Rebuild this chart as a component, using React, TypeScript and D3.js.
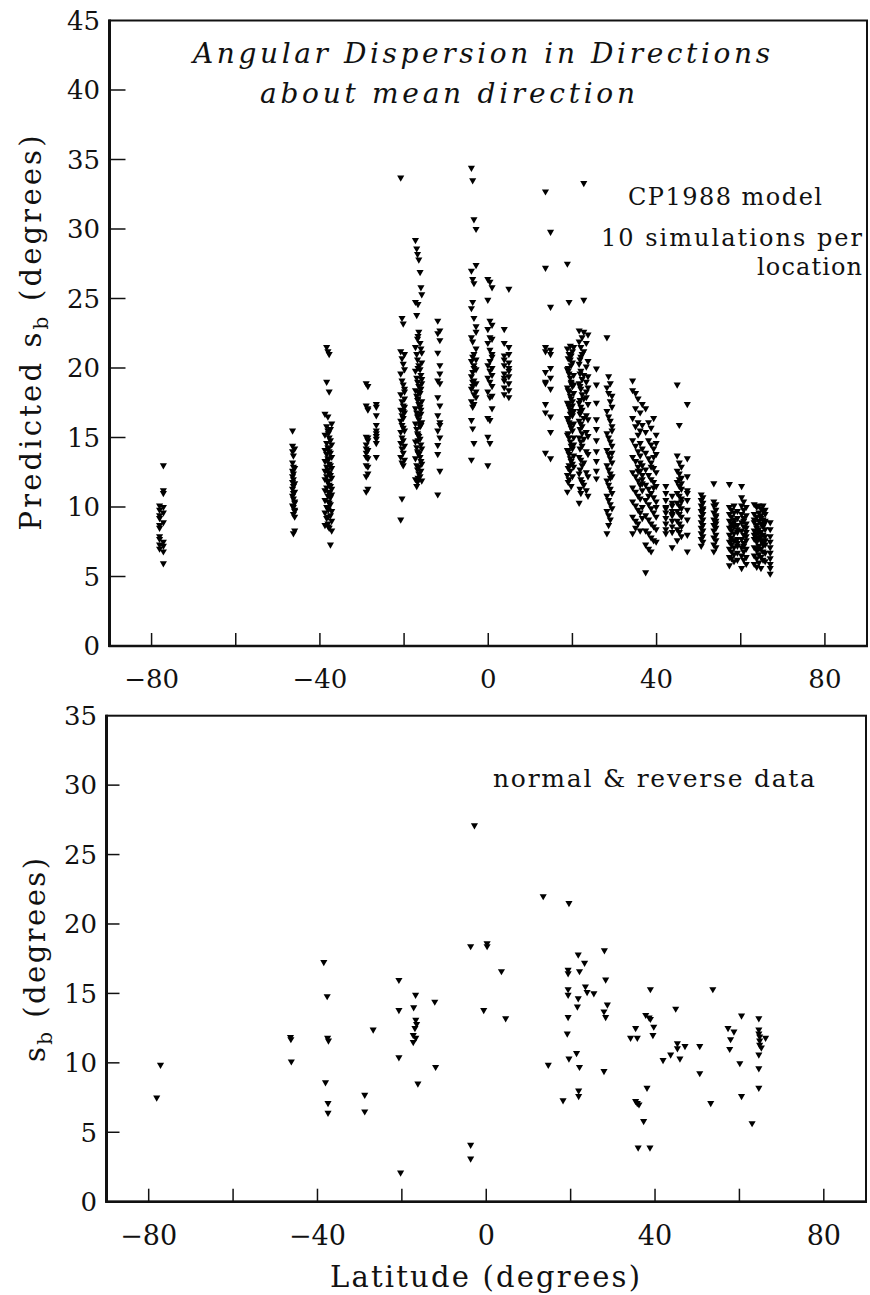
import React from 'react';
import * as d3 from 'd3';

// ---------------- data ----------------
const xTickValues = [-80, -60, -40, -20, 0, 20, 40, 60, 80];
const xTickLabels = ['\u221280', '', '\u221240', '', '0', '', '40', '', '80'];
const topYTickValues = [0, 5, 10, 15, 20, 25, 30, 35, 40, 45];
const bottomYTickValues = [0, 5, 10, 15, 20, 25, 30, 35];

// model simulations (10 per location), grouped by site latitude
const simLatitudes = [
  -78.1, -77.2,
  -46.5, -46.3, -46.0,
  -38.8, -38.4, -38.1, -37.8, -37.5, -37.2, -38.0,
  -29.0, -28.6, -26.6,
  -20.8, -20.5, -20.2, -19.9,
  -17.3, -17.0, -16.8, -16.5, -16.2, -16.0, -15.8, -16.7,
  -12.0, -11.5,
  -4.0, -3.7, -3.4, -2.9,
  -0.1, 0.4, 0.9,
  3.8, 4.9,
  13.6, 14.8,
  18.8, 19.2, 19.5, 19.7, 20.0, 19.0, 20.3,
  22.7, 21.6, 22.0, 22.3, 21.8, 23.3, 23.7,
  25.7,
  28.2, 28.6, 29.0, 29.4,
  34.3, 35.0, 35.6, 36.1, 36.6,
  37.4, 38.1, 38.7, 39.3, 39.9,
  42.2, 43.7,
  44.9, 45.4, 45.9, 47.3,
  50.6, 51.0,
  53.6, 54.1,
  57.3, 57.8, 58.4, 59.2,
  60.2, 60.7, 61.3,
  63.2, 63.8, 64.3, 64.8, 65.3, 65.8,
  67.0,
];

const simValues = [
  [9.8, 9.4, 8.7, 8.5, 7.3, 7.7, 7.9, 9.2, 10.1, 7.0],
  [13.0, 11.2, 11.0, 10.0, 9.6, 8.9, 7.5, 7.2, 6.8, 5.95],
  [15.5, 14.4, 14.0, 13.2, 12.6, 12.2, 11.8, 11.3, 10.8, 10.1],
  [13.7, 12.9, 12.4, 12.0, 11.5, 11.0, 10.6, 10.0, 9.5, 8.1],
  [14.2, 12.8, 11.7, 11.1, 10.4, 9.8, 9.3, 9.7, 10.3, 8.3],
  [16.7, 15.2, 14.1, 13.3, 12.6, 12.0, 11.2, 10.5, 9.6, 8.7],
  [21.5, 19.0, 15.8, 14.6, 13.8, 12.9, 12.2, 11.4, 10.0, 9.2],
  [21.2, 16.5, 15.5, 14.3, 13.5, 12.7, 11.8, 10.8, 9.9, 8.8],
  [21.0, 18.3, 15.0, 14.0, 13.1, 12.4, 11.6, 11.0, 10.3, 8.5],
  [15.6, 14.8, 13.9, 13.0, 12.3, 11.5, 10.7, 10.2, 9.4, 7.3],
  [16.0, 14.5, 13.6, 12.8, 12.1, 11.3, 10.9, 9.7, 9.0, 8.3],
  [15.3, 14.2, 13.4, 12.5, 11.9, 11.1, 10.4, 9.8, 9.3, 8.6],
  [18.9, 17.3, 15.05, 14.5, 13.9, 13.0, 12.2, 11.1, 14.2, 13.6],
  [18.7, 17.1, 17.0, 14.8, 14.1, 13.5, 12.9, 11.3, 12.4, 15.0],
  [17.4, 17.2, 16.6, 15.9, 15.5, 15.3, 15.1, 14.6, 13.6, 14.9],
  [33.7, 21.2, 19.6, 18.1, 17.0, 16.2, 15.4, 14.6, 13.6, 9.1],
  [23.6, 20.7, 19.1, 17.6, 16.6, 15.9, 15.0, 14.2, 13.2, 10.6],
  [23.2, 20.3, 18.8, 17.3, 16.4, 15.7, 14.8, 13.9, 13.0, 16.9],
  [21.0, 19.9, 18.5, 17.8, 16.8, 15.5, 14.4, 13.4, 18.3, 17.2],
  [29.2, 24.75, 21.5, 19.8, 18.4, 17.1, 16.0, 14.7, 13.5, 12.0],
  [28.6, 23.8, 21.0, 19.3, 18.0, 16.8, 15.6, 14.3, 13.0, 11.5],
  [28.2, 22.1, 20.6, 19.0, 17.7, 16.5, 15.3, 14.0, 12.7, 11.8],
  [27.8, 22.6, 20.2, 18.7, 17.4, 16.3, 15.1, 13.8, 12.4, 12.9],
  [26.9, 21.8, 19.9, 18.2, 17.2, 16.0, 14.9, 13.6, 12.2, 15.8],
  [25.8, 21.4, 19.5, 18.5, 17.0, 15.9, 14.5, 13.3, 12.6, 16.7],
  [25.3, 21.1, 20.4, 18.9, 17.6, 16.1, 14.2, 13.1, 11.9, 19.2],
  [24.6, 22.3, 20.0, 18.3, 17.8, 16.6, 15.2, 13.9, 12.1, 14.8],
  [23.4, 22.5, 21.1, 19.1, 17.9, 16.6, 15.5, 14.45, 13.8, 10.9],
  [22.7, 22.0, 20.2, 18.9, 17.3, 15.9, 15.0, 16.1, 19.6, 12.6],
  [34.4, 27.0, 24.3, 22.2, 20.5, 19.4, 18.5, 17.6, 16.25, 13.4],
  [33.5, 26.4, 24.75, 21.9, 20.8, 19.7, 18.7, 17.2, 15.65, 19.0],
  [30.7, 26.1, 23.6, 21.0, 20.2, 19.1, 18.1, 17.4, 14.6, 20.0],
  [30.0, 27.4, 23.0, 22.6, 21.4, 19.9, 18.9, 17.9, 18.3, 20.6],
  [26.4, 24.9, 22.8, 21.8, 20.2, 19.3, 18.3, 16.4, 15.05, 13.0],
  [26.2, 23.4, 22.2, 21.3, 19.8, 19.0, 17.9, 16.25, 14.6, 20.5],
  [25.8, 23.1, 22.1, 20.8, 20.0, 18.7, 17.1, 18.0, 19.5, 21.0],
  [22.8, 21.8, 20.9, 20.2, 19.6, 19.1, 18.6, 18.1, 20.6, 19.3],
  [25.7, 21.5, 21.0, 20.4, 19.8, 19.4, 18.9, 18.4, 17.9, 20.0],
  [32.7, 27.2, 21.5, 19.7, 18.9, 17.4, 16.8, 13.9, 21.2, 19.0],
  [29.8, 24.4, 21.3, 20.0, 18.5, 15.4, 13.5, 16.5, 19.3, 21.0],
  [27.5, 21.4, 19.9, 18.6, 17.5, 16.4, 15.2, 14.1, 12.3, 11.1],
  [24.75, 21.0, 19.6, 18.3, 17.2, 16.1, 15.0, 13.8, 13.0, 12.0],
  [21.6, 20.6, 19.3, 18.0, 17.0, 15.9, 14.7, 13.5, 12.6, 16.7],
  [20.9, 20.2, 19.0, 17.8, 16.8, 15.7, 14.4, 13.3, 11.5, 18.9],
  [21.2, 20.4, 18.7, 17.6, 16.6, 15.5, 14.2, 13.1, 12.2, 17.3],
  [20.7, 19.8, 18.4, 17.4, 16.3, 15.3, 14.0, 12.8, 11.8, 20.0],
  [21.5, 19.5, 18.2, 16.9, 16.0, 15.0, 14.5, 13.7, 12.9, 18.8],
  [33.3, 24.9, 22.6, 21.2, 19.5, 17.8, 16.4, 14.9, 13.2, 11.6],
  [22.7, 21.9, 20.3, 18.9, 17.5, 16.2, 15.0, 13.6, 12.4, 10.3],
  [21.5, 20.8, 19.8, 18.5, 17.2, 16.0, 14.7, 13.4, 12.0, 11.0],
  [22.2, 21.0, 19.2, 18.1, 17.0, 15.8, 14.4, 13.0, 11.8, 15.3],
  [20.6, 19.6, 18.7, 17.7, 16.7, 15.6, 14.2, 12.7, 11.3, 16.9],
  [21.8, 20.1, 19.0, 17.9, 16.6, 15.4, 14.0, 12.5, 11.2, 18.3],
  [22.4, 20.5, 18.6, 17.4, 16.3, 15.1, 13.8, 12.2, 10.8, 19.4],
  [19.96, 18.8, 17.5, 16.3, 15.6, 14.8, 14.0, 13.3, 12.6, 12.05],
  [22.2, 18.6, 16.9, 15.3, 14.1, 13.0, 11.9, 10.8, 9.7, 8.1],
  [19.4, 18.2, 16.5, 15.0, 13.8, 12.7, 11.6, 10.5, 9.4, 8.7],
  [18.9, 17.6, 16.2, 14.7, 13.5, 12.4, 11.3, 10.2, 9.1, 12.1],
  [18.0, 17.2, 15.8, 14.4, 13.2, 12.2, 11.0, 9.9, 15.5, 13.9],
  [19.1, 18.4, 16.4, 14.8, 13.6, 12.5, 11.4, 10.4, 9.3, 8.1],
  [18.2, 17.1, 15.8, 14.4, 13.3, 12.2, 11.1, 10.1, 9.0, 8.5],
  [17.8, 16.1, 15.2, 14.0, 12.9, 11.9, 10.8, 9.8, 8.8, 12.6],
  [16.8, 15.5, 14.6, 13.7, 12.6, 11.6, 10.6, 9.6, 8.3, 13.2],
  [17.4, 15.9, 14.2, 13.0, 12.0, 11.2, 10.0, 9.2, 11.7, 12.3],
  [17.1, 15.4, 13.9, 12.7, 11.6, 10.5, 9.4, 8.3, 7.3, 5.3],
  [16.1, 14.8, 13.5, 12.3, 11.3, 10.2, 9.1, 8.1, 7.0, 10.8],
  [15.7, 14.5, 13.2, 12.0, 11.0, 9.9, 8.8, 7.8, 6.8, 12.9],
  [16.4, 14.2, 12.8, 11.8, 10.7, 9.6, 8.6, 7.6, 11.4, 13.6],
  [15.2, 13.8, 12.5, 11.5, 10.4, 9.3, 8.4, 7.5, 14.6, 10.0],
  [11.5, 11.0, 10.5, 10.0, 9.6, 9.2, 8.8, 8.4, 8.1, 9.9],
  [10.8, 10.3, 9.7, 9.4, 9.0, 8.6, 8.2, 7.1, 10.1, 9.5],
  [18.8, 13.7, 12.6, 11.8, 11.0, 10.3, 9.7, 9.0, 8.4, 7.6],
  [15.9, 13.2, 12.4, 11.5, 10.8, 10.1, 9.5, 8.8, 8.2, 12.0],
  [12.9, 12.1, 11.3, 10.6, 9.9, 9.3, 8.6, 7.9, 11.7, 10.4],
  [17.4, 13.5, 12.2, 11.2, 10.5, 9.8, 9.1, 8.0, 6.8, 11.0],
  [10.9, 10.5, 10.1, 9.7, 9.3, 8.9, 8.5, 8.1, 7.7, 7.2],
  [10.7, 10.3, 9.9, 9.5, 9.1, 8.7, 8.3, 7.9, 7.5, 9.8],
  [11.7, 10.4, 10.1, 9.6, 9.1, 8.7, 8.3, 7.8, 7.3, 6.8],
  [10.2, 9.8, 9.4, 9.0, 8.5, 8.0, 7.6, 7.1, 8.8, 9.3],
  [11.65, 10.0, 9.5, 9.0, 8.5, 8.0, 7.5, 7.0, 6.4, 5.8],
  [9.8, 9.3, 8.8, 8.3, 7.8, 7.3, 6.8, 6.3, 8.6, 7.6],
  [10.1, 9.6, 9.1, 8.6, 8.1, 7.6, 7.1, 6.6, 6.1, 8.9],
  [9.7, 9.2, 8.7, 8.2, 7.7, 7.2, 6.7, 6.2, 8.4, 7.4],
  [11.5, 10.7, 10.1, 9.5, 8.9, 8.3, 7.7, 7.1, 6.5, 5.6],
  [10.4, 9.8, 9.2, 8.6, 8.0, 7.4, 6.8, 6.2, 9.0, 7.2],
  [10.0, 9.4, 8.8, 8.2, 7.6, 7.0, 6.4, 5.9, 8.5, 7.9],
  [10.2, 9.5, 8.9, 8.3, 7.7, 7.1, 6.5, 5.9, 8.0, 9.1],
  [10.0, 9.3, 8.7, 8.1, 7.5, 6.9, 6.3, 5.7, 7.8, 8.5],
  [10.1, 9.6, 9.0, 8.4, 7.8, 7.2, 6.6, 6.0, 8.2, 7.0],
  [9.9, 9.4, 8.8, 8.2, 7.6, 7.0, 6.4, 5.6, 9.2, 7.9],
  [10.1, 9.1, 8.6, 8.0, 7.4, 6.8, 6.2, 8.7, 9.7, 7.3],
  [9.8, 9.0, 8.4, 7.9, 7.3, 6.7, 6.1, 8.9, 9.5, 7.6],
  [8.9, 8.4, 7.9, 7.5, 7.1, 6.7, 6.3, 5.9, 5.6, 5.2],
];

// observed normal & reverse data (one point per site)
const obsLatitudes = [
  -77.2, -78.1,
  -46.4, -46.3, -46.2,
  -38.5, -37.7, -37.6, -37.4, -38.1, -37.5, -37.5,
  -28.8, -28.8, -26.8,
  -20.7, -20.7, -20.7, -20.3,
  -17.2, -16.75, -16.7, -16.5, -16.9, -17.3, -16.7, -17.3, -16.2,
  -12.2, -12.0,
  -2.8, -3.7, -3.7, -3.7,
  0.2, 0.2, -0.6,
  3.6, 4.6,
  13.5, 14.7,
  19.6, 19.4, 19.4, 19.4, 19.4, 19.4, 19.2, 19.6, 18.2,
  21.8, 23.3, 22.1, 21.8, 23.5, 23.9, 25.5, 21.6,
  21.4, 22.1, 21.9, 21.9,
  28.0, 28.3, 28.7, 27.9, 28.3, 27.9,
  34.2, 35.8, 35.4, 35.4, 35.8, 36.2, 37.3, 36.0, 38.8,
  38.9, 37.8, 38.6, 38.9, 39.7, 39.5, 38.1,
  44.9, 45.3, 45.3, 47.1, 43.7, 41.9, 45.9,
  50.6, 50.6, 53.7, 53.2,
  57.3, 58.7, 57.9, 57.7, 60.5, 60.1, 60.5, 63.0,
  64.6, 64.6, 64.6, 64.8, 64.8, 64.8, 65.2, 66.2, 64.6, 64.6, 64.6,
];

const obsValues = [
  9.85, 7.5,
  11.85, 11.7, 10.1,
  17.25, 14.8, 11.8, 11.6, 8.6, 7.1, 6.4,
  7.7, 6.5, 12.4,
  15.97, 13.8, 10.4, 2.1,
  14.0, 14.9, 13.1, 12.8, 12.5, 12.0, 11.8, 11.5, 8.5,
  14.4, 9.7,
  27.1, 18.4, 4.1, 3.1,
  18.6, 18.4, 13.8,
  16.6, 13.2,
  22.0, 9.85,
  21.5, 16.7, 16.45, 15.3, 14.9, 13.3, 12.1, 10.3, 7.3,
  17.8, 17.2, 16.6, 14.65, 15.5, 15.1, 15.0, 14.05,
  10.7, 9.7, 8.0, 7.6,
  18.1, 16.0, 14.2, 13.7, 13.3, 9.4,
  11.8, 11.8, 12.5, 7.25, 7.1, 7.0, 5.8, 3.9, 3.9,
  15.3, 13.45, 13.26, 13.16, 12.6, 12.0, 8.2,
  13.9, 11.4, 11.05, 11.2, 10.6, 10.2, 10.3,
  11.2, 9.25, 15.3, 7.1,
  12.5, 12.25, 11.7, 11.0, 13.4, 9.97, 7.6, 5.65,
  13.2, 12.4, 12.1, 11.9, 11.6, 11.3, 11.1, 11.8, 10.6, 9.6, 8.2,
];

const titleLines = ['Angular Dispersion in Directions', 'about mean direction'];
const topNotes = ['CP1988 model', '10 simulations per', 'location'];
const bottomNote = 'normal & reverse data';

// ---------------- component ----------------
const FONT = "'DejaVu Serif', 'Liberation Serif', serif";

export default function App() {
  const topX = d3.scaleLinear().domain([-90, 90]).range([109.5, 867]);
  const topY = d3.scaleLinear().domain([0, 45]).range([646, 20.5]);
  const botX = d3.scaleLinear().domain([-90, 90]).range([106.5, 866]);
  const botY = d3.scaleLinear().domain([0, 35]).range([1201.7, 715.7]);

  const tri = d3.symbol().type(d3.symbolTriangle).size(22)() as string;

  const simPoints: [number, number][] = simLatitudes.flatMap((lat, i) =>
    simValues[i].map((v) => [lat, v] as [number, number])
  );
  const obsPoints: [number, number][] = obsLatitudes.map((lat, i) => [lat, obsValues[i]]);

  const frame = (
    xs: d3.ScaleLinear<number, number>,
    ys: d3.ScaleLinear<number, number>,
    yTicks: number[],
    yTickLen: number,
    yLabelX: number,
    xLabelY: number,
    xLabelSize: number,
    key: string
  ) => {
    const [x0, x1] = xs.range();
    const [y0, y1] = ys.range();
    return (
      <g key={key}>
        <rect x={x0} y={y1} width={x1 - x0} height={y0 - y1} fill="none" stroke="#111" strokeWidth={2} />
        <line x1={x0} x2={x0} y1={y1 - 1} y2={y0 + 1} stroke="#111" strokeWidth={3} />
        <line x1={x0 - 1} x2={x1 + 1} y1={y0} y2={y0} stroke="#111" strokeWidth={2.5} />
        {yTicks.map((t) => (
          <g key={'y' + t}>
            {t > 0 && t < ys.domain()[1] && (
              <line x1={x0} x2={x0 + yTickLen} y1={ys(t)} y2={ys(t)} stroke="#111" strokeWidth={1.5} />
            )}
            <text
              x={yLabelX}
              y={ys(t)}
              dy="0.36em"
              textAnchor="end"
              fontFamily={FONT}
              fontSize={26}
              fill="#111"
            >
              {t}
            </text>
          </g>
        ))}
        {xTickValues.map((t, i) => (
          <g key={'x' + t}>
            <line x1={xs(t)} x2={xs(t)} y1={y0} y2={y0 - 13} stroke="#111" strokeWidth={1.5} />
            {xTickLabels[i] && (
              <text x={xs(t)} y={xLabelY} textAnchor="middle" fontFamily={FONT} fontSize={xLabelSize} fill="#111">
                {xTickLabels[i]}
              </text>
            )}
          </g>
        ))}
      </g>
    );
  };

  return (
    <svg
      width={870}
      height={1295}
      viewBox="0 0 870 1295"
      style={{ position: 'absolute', left: 0, top: 0, background: '#fff' }}
    >
      <rect x={0} y={0} width={870} height={1295} fill="#fff" />

      {/* ---------- top panel ---------- */}
      {frame(topX, topY, topYTickValues, 16, 100, 688, 26, 'top')}
      <g>
        {simPoints.map(([lat, v], i) => (
          <path key={i} d={tri} transform={`translate(${topX(lat)},${topY(v)}) rotate(180)`} fill="#000" />
        ))}
      </g>
      <text x={193} y={63} fontFamily={FONT} fontStyle="italic" fontSize={28} textLength={577} lengthAdjust="spacing" fill="#111">
        {titleLines[0]}
      </text>
      <text x={260} y={103} fontFamily={FONT} fontStyle="italic" fontSize={28} textLength={375} lengthAdjust="spacing" fill="#111">
        {titleLines[1]}
      </text>
      <text x={628} y={205} fontFamily={FONT} fontSize={24} textLength={194} lengthAdjust="spacing" fill="#111">
        {topNotes[0]}
      </text>
      <text x={601} y={246} fontFamily={FONT} fontSize={24} textLength={261} lengthAdjust="spacing" fill="#111">
        {topNotes[1]}
      </text>
      <text x={757} y={275} fontFamily={FONT} fontSize={24} textLength={105} lengthAdjust="spacing" fill="#111">
        {topNotes[2]}
      </text>
      <text
        transform="translate(41,333) rotate(-90)"
        textAnchor="middle"
        fontFamily={FONT}
        fontSize={29}
        textLength={395}
        lengthAdjust="spacing"
        fill="#111"
      >
        Predicted s<tspan fontSize={20} dy={7}>b</tspan>
        <tspan dy={-7}> (degrees)</tspan>
      </text>

      {/* ---------- bottom panel ---------- */}
      {frame(botX, botY, bottomYTickValues, 13, 97, 1245, 27, 'bottom')}
      <g>
        {obsPoints.map(([lat, v], i) => (
          <path key={i} d={tri} transform={`translate(${botX(lat)},${botY(v)}) rotate(180)`} fill="#000" />
        ))}
      </g>
      <text x={493} y={787} fontFamily={FONT} fontSize={25} textLength={322} lengthAdjust="spacing" fill="#111">
        {bottomNote}
      </text>
      <text
        transform="translate(45,960) rotate(-90)"
        textAnchor="middle"
        fontFamily={FONT}
        fontSize={29}
        textLength={204}
        lengthAdjust="spacing"
        fill="#111"
      >
        s<tspan fontSize={20} dy={7}>b</tspan>
        <tspan dy={-7}>{'  (degrees)'}</tspan>
      </text>
      <text x={485} y={1287} textAnchor="middle" fontFamily={FONT} fontSize={29} textLength={310} lengthAdjust="spacing" fill="#111">
        Latitude (degrees)
      </text>
    </svg>
  );
}
